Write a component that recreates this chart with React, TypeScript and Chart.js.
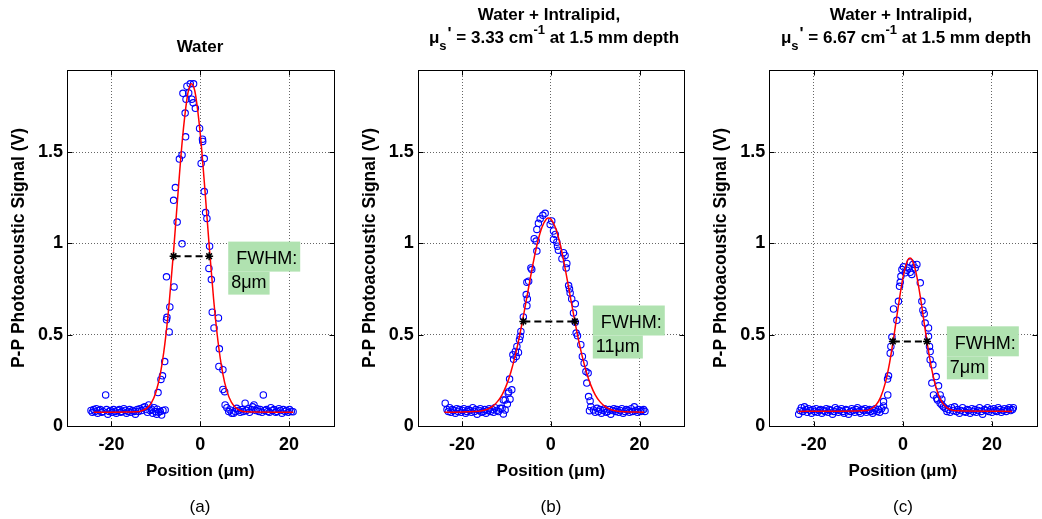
import React, { useEffect, useRef } from "react";
import { Chart, registerables } from "chart.js";
Chart.register(...registerables);

// ---------- axes ----------
const X_TICKS = [-20, 0, 20];
const Y_TICKS = [0, 0.5, 1, 1.5];
const X_MIN = -30;
const X_MAX = 30;
const Y_MIN = 0;
const Y_MAX = 1.95;

const X_TITLE = "Position (\u03bcm)";
const Y_TITLE = "P-P Photoacoustic Signal (V)";

// ---------- panel (a): Water ----------
const waterPoints: [number, number][] = [
  [-24.6, 0.085], [-24.3, 0.075], [-24.0, 0.09], [-23.7, 0.08], [-23.4, 0.095], [-23.1, 0.07], [-22.8, 0.085],
  [-22.5, 0.09], [-22.2, 0.075], [-21.9, 0.08], [-21.3, 0.17], [-21.1, 0.09], [-20.8, 0.065], [-20.5, 0.08],
  [-20.2, 0.085], [-19.9, 0.075], [-19.5, 0.09], [-19.2, 0.08], [-18.9, 0.07], [-18.6, 0.085], [-18.2, 0.09],
  [-17.9, 0.075], [-17.6, 0.08], [-17.2, 0.095], [-16.9, 0.085], [-16.6, 0.07], [-16.2, 0.08], [-15.9, 0.09],
  [-15.6, 0.075], [-15.2, 0.085], [-14.9, 0.08], [-14.6, 0.065], [-14.2, 0.09], [-13.9, 0.08], [-13.6, 0.095],
  [-13.2, 0.085], [-12.9, 0.1], [-12.5, 0.106], [-12.2, 0.09], [-11.9, 0.075], [-11.6, 0.115], [-11.3, 0.085],
  [-11.0, 0.092], [-10.7, 0.07], [-10.4, 0.1], [-10.1, 0.079], [-9.8, 0.065], [-9.7, 0.092], [-9.4, 0.075],
  [-9.0, 0.079], [-8.7, 0.06], [-8.4, 0.085], [-7.9, 0.088],
  [-9.5, 0.183], [-8.85, 0.255], [-8.5, 0.275], [-8.0, 0.353], [-7.6, 0.582], [-7.5, 0.595], [-7.6, 0.817],
  [-7.0, 0.515], [-6.85, 0.652], [-5.9, 0.762], [-6.0, 1.236], [-5.6, 1.306], [-5.2, 1.117], [-4.7, 1.462],
  [-4.1, 1.485], [-4.1, 0.998], [-3.9, 1.822], [-3.4, 1.714], [-3.3, 1.584], [-3.2, 1.79], [-3.0, 1.861],
  [-2.6, 1.824], [-2.25, 1.874], [-1.9, 1.79], [-1.6, 1.77], [-1.5, 1.874], [-1.1, 1.74], [-0.15, 1.63],
  [0.2, 1.438], [0.5, 1.571], [0.55, 1.559], [0.9, 1.465], [0.9, 1.284], [1.2, 1.169], [1.5, 1.137],
  [1.95, 0.863], [2.1, 0.985], [2.5, 0.802], [2.7, 0.623], [3.1, 0.537], [4.1, 0.592], [4.3, 0.423],
  [4.2, 0.326], [5.1, 0.308], [5.1, 0.2], [5.5, 0.188],
  [5.6, 0.115], [6.0, 0.1], [6.4, 0.079], [6.7, 0.088], [7.1, 0.07], [7.5, 0.07], [7.9, 0.079], [8.2, 0.097],
  [8.6, 0.085], [9.0, 0.075], [9.4, 0.09], [9.7, 0.08], [10.1, 0.125], [10.4, 0.085], [10.8, 0.095],
  [11.1, 0.075], [11.5, 0.09], [11.8, 0.105], [12.1, 0.115], [12.5, 0.085], [12.8, 0.095], [13.2, 0.08],
  [13.5, 0.09], [13.9, 0.075], [14.2, 0.17], [14.5, 0.085], [14.9, 0.09], [15.2, 0.08], [15.6, 0.075],
  [15.9, 0.1], [16.3, 0.085], [16.6, 0.09], [17.0, 0.075], [17.3, 0.08], [17.7, 0.095], [18.0, 0.085],
  [18.4, 0.07], [18.7, 0.09], [19.1, 0.08], [19.4, 0.085], [19.8, 0.075], [20.1, 0.09], [20.5, 0.08], [20.9, 0.078],
];
const waterFit: [number, number][] = [
  [-24, 0.075], [-14, 0.078], [-13, 0.085], [-12, 0.098], [-11, 0.127], [-10, 0.184], [-9, 0.284], [-8, 0.444],
  [-7, 0.671], [-6, 0.959], [-5, 1.278], [-4, 1.575], [-3, 1.791], [-2.5, 1.852], [-2, 1.875], [-1.5, 1.859],
  [-1, 1.806], [0, 1.601], [1, 1.31], [2, 0.991], [3, 0.697], [4, 0.463], [5, 0.297], [6, 0.191], [7, 0.131],
  [8, 0.1], [9, 0.085], [10, 0.078], [21, 0.075],
];
const waterFwhm: [number, number][] = [[-6.0, 0.93], [2.0, 0.93]];
const waterNote = [" FWHM:", "8\u03bcm"];

// ---------- panel (b): Water + Intralipid, 3.33 cm-1 ----------
const lipid1Points: [number, number][] = [
  [-23.8, 0.125], [-23.4, 0.09], [-23.1, 0.08], [-22.8, 0.1], [-22.5, 0.075], [-22.2, 0.09], [-21.9, 0.085],
  [-21.5, 0.07], [-21.2, 0.095], [-20.9, 0.08], [-20.6, 0.09], [-20.2, 0.075], [-19.9, 0.085], [-19.6, 0.095],
  [-19.2, 0.07], [-18.9, 0.08], [-18.6, 0.09], [-18.2, 0.085], [-17.9, 0.075], [-17.6, 0.1], [-17.2, 0.08],
  [-16.9, 0.09], [-16.6, 0.065], [-16.2, 0.085], [-15.9, 0.095], [-15.6, 0.075], [-15.2, 0.08], [-14.9, 0.09],
  [-14.6, 0.07], [-14.2, 0.085], [-13.9, 0.095], [-13.6, 0.08], [-13.2, 0.09], [-12.9, 0.075], [-12.6, 0.1],
  [-12.2, 0.085], [-11.8, 0.079], [-11.4, 0.097], [-11.0, 0.097], [-10.7, 0.066], [-10.3, 0.088],
  [-10.7, 0.143], [-10.3, 0.143], [-9.8, 0.121], [-9.6, 0.18], [-9.5, 0.188], [-9.3, 0.257], [-9.2, 0.147],
  [-8.8, 0.198], [-8.55, 0.39], [-8.4, 0.366], [-8.0, 0.408], [-7.8, 0.381], [-7.65, 0.436], [-7.3, 0.403],
  [-7.07, 0.473], [-6.9, 0.491], [-6.75, 0.518], [-6.2, 0.597], [-5.55, 0.72], [-5.4, 0.659], [-5.4, 0.787],
  [-5.3, 0.696], [-5.0, 0.793], [-4.5, 0.866], [-4.3, 0.857], [-3.75, 1.026], [-3.3, 1.013], [-3.15, 1.077],
  [-3.15, 0.958], [-2.8, 1.11], [-2.4, 1.135], [-1.8, 1.154], [-1.28, 1.165], [-0.15, 1.104], [0.2, 1.123],
  [0.6, 1.068], [0.6, 1.022], [1.0, 1.049], [1.35, 1.007], [1.5, 0.985], [1.7, 0.963], [2.5, 0.916],
  [2.85, 0.949], [3.2, 0.934], [3.45, 0.866], [3.6, 0.89], [4.0, 0.769], [4.2, 0.751], [4.35, 0.729],
  [4.7, 0.696], [5.1, 0.619], [5.5, 0.67], [5.5, 0.568], [5.7, 0.509], [6.0, 0.495], [6.75, 0.445],
  [7.1, 0.381], [7.5, 0.344], [7.9, 0.298], [8.1, 0.235], [8.4, 0.29], [8.5, 0.161], [8.7, 0.084],
  [8.85, 0.137], [9.0, 0.106], [9.6, 0.088], [10.4, 0.097],
  [10.0, 0.075], [10.7, 0.08], [11.1, 0.09], [11.4, 0.07], [11.8, 0.085], [12.1, 0.095], [12.5, 0.075],
  [12.8, 0.08], [13.2, 0.09], [13.5, 0.065], [13.9, 0.085], [14.2, 0.095], [14.6, 0.08], [14.9, 0.09],
  [15.3, 0.075], [15.6, 0.085], [16.0, 0.095], [16.3, 0.07], [16.7, 0.08], [17.0, 0.09], [17.4, 0.085],
  [17.7, 0.075], [18.1, 0.095], [18.4, 0.08], [18.8, 0.105], [19.1, 0.085], [19.5, 0.075], [19.8, 0.09],
  [20.2, 0.08], [20.5, 0.085], [20.9, 0.09], [21.2, 0.08],
];
const lipid1Fit: [number, number][] = [
  [-24, 0.075], [-16, 0.081], [-15, 0.086], [-14, 0.095], [-13, 0.11], [-12, 0.135], [-11, 0.171], [-10, 0.224],
  [-9, 0.296], [-8, 0.388], [-7, 0.499], [-6, 0.626], [-5, 0.76], [-4, 0.891], [-3, 1.005], [-2, 1.089],
  [-1, 1.134], [-0.5, 1.14], [0, 1.134], [1, 1.089], [2, 1.005], [3, 0.891], [4, 0.76], [5, 0.626], [6, 0.499],
  [7, 0.388], [8, 0.296], [9, 0.224], [10, 0.171], [11, 0.135], [12, 0.11], [13, 0.095], [14, 0.086],
  [15, 0.081], [21, 0.075],
];
const lipid1Fwhm: [number, number][] = [[-6.2, 0.573], [5.4, 0.573]];
const lipid1Note = [" FWHM:", "11\u03bcm"];

// ---------- panel (c): Water + Intralipid, 6.67 cm-1 ----------
const lipid2Points: [number, number][] = [
  [-23.4, 0.065], [-23.1, 0.085], [-22.8, 0.1], [-22.5, 0.08], [-22.1, 0.105], [-21.8, 0.09], [-21.5, 0.075],
  [-21.2, 0.095], [-20.8, 0.085], [-20.5, 0.07], [-20.2, 0.09], [-19.8, 0.08], [-19.5, 0.095], [-19.2, 0.075],
  [-18.8, 0.085], [-18.5, 0.09], [-18.2, 0.07], [-17.8, 0.085], [-17.5, 0.08], [-17.2, 0.095], [-16.8, 0.075],
  [-16.5, 0.09], [-16.2, 0.085], [-15.8, 0.065], [-15.5, 0.08], [-15.2, 0.1], [-14.8, 0.09], [-14.5, 0.075],
  [-14.2, 0.085], [-13.8, 0.095], [-13.5, 0.08], [-13.2, 0.07], [-12.8, 0.09], [-12.5, 0.085], [-12.2, 0.065],
  [-11.8, 0.08], [-11.5, 0.095], [-11.2, 0.085], [-10.8, 0.075], [-10.5, 0.09], [-10.2, 0.1], [-9.8, 0.08],
  [-9.5, 0.07], [-9.2, 0.09], [-8.8, 0.085], [-8.5, 0.095], [-8.2, 0.075], [-7.8, 0.085], [-7.5, 0.09],
  [-7.2, 0.08], [-6.8, 0.07], [-6.5, 0.085], [-6.2, 0.095], [-5.8, 0.08], [-5.5, 0.09], [-5.2, 0.075],
  [-4.8, 0.095], [-4.35, 0.11], [-4.35, 0.134], [-4.0, 0.085],
  [-3.4, 0.17], [-3.45, 0.257], [-3.23, 0.275], [-2.85, 0.399], [-2.7, 0.436], [-2.47, 0.487], [-2.1, 0.641],
  [-1.35, 0.579], [-1.0, 0.683], [-0.76, 0.765], [-0.6, 0.787], [-0.45, 0.82], [-0.22, 0.857], [0.13, 0.872],
  [0.52, 0.839], [0.9, 0.853], [1.26, 0.866], [1.64, 0.897], [1.64, 0.842], [2.0, 0.83], [2.24, 0.885],
  [2.76, 0.866], [3.14, 0.885], [3.9, 0.784], [4.26, 0.683], [4.49, 0.634], [4.78, 0.615], [5.0, 0.564],
  [5.75, 0.537], [5.75, 0.491], [5.97, 0.436], [6.12, 0.408], [6.12, 0.363], [6.5, 0.235], [6.73, 0.335],
  [6.87, 0.17], [7.47, 0.271], [7.6, 0.152], [7.77, 0.143], [8.0, 0.22], [8.37, 0.17], [8.37, 0.125],
  [8.75, 0.147], [8.75, 0.115], [9.1, 0.106], [9.5, 0.097],
  [9.9, 0.08], [10.2, 0.09], [10.6, 0.075], [10.9, 0.1], [11.3, 0.085], [11.6, 0.105], [12.0, 0.08],
  [12.3, 0.09], [12.7, 0.07], [13.0, 0.085], [13.4, 0.1], [13.7, 0.08], [14.1, 0.075], [14.4, 0.09],
  [14.8, 0.085], [15.1, 0.07], [15.5, 0.095], [15.8, 0.08], [16.2, 0.09], [16.5, 0.075], [16.9, 0.085],
  [17.2, 0.1], [17.6, 0.08], [17.9, 0.065], [18.3, 0.09], [18.6, 0.085], [19.0, 0.1], [19.3, 0.08],
  [19.7, 0.09], [20.0, 0.075], [20.4, 0.095], [20.7, 0.085], [21.1, 0.08], [21.4, 0.1], [21.8, 0.09],
  [22.1, 0.075], [22.5, 0.085], [22.8, 0.095], [23.2, 0.08], [23.5, 0.09], [23.9, 0.1], [24.2, 0.085],
  [24.6, 0.09], [24.8, 0.1],
];
const lipid2Fit: [number, number][] = [
  [-23.5, 0.08], [-8, 0.0855], [-7, 0.095], [-6, 0.116], [-5, 0.158], [-4, 0.232], [-3, 0.345], [-2, 0.495],
  [-1, 0.661], [0, 0.811], [1, 0.904], [1.6, 0.92], [2, 0.913], [3, 0.835], [4, 0.694], [5, 0.528],
  [6, 0.373], [7, 0.252], [8, 0.17], [9, 0.1225], [10, 0.098], [11, 0.087], [12, 0.083], [24.5, 0.08],
];
const lipid2Fwhm: [number, number][] = [[-2.25, 0.463], [5.4, 0.463]];
const lipid2Note = [" FWHM:", "7\u03bcm"];

// ---------- styling / layout ----------
const FONT = '"Liberation Sans", Arial, Helvetica, sans-serif';
const NOTE_BG = "rgb(176,226,176)";

type PanelCfg = {
  left: number;
  width: number;
  padL: number;
  padR: number;
  points: [number, number][];
  fit: [number, number][];
  fwhm: [number, number][];
  note: string[];
  noteAt: [number, number];
};

const panels: PanelCfg[] = [
  { left: 0, width: 350, padL: 5, padR: 16.5, points: waterPoints, fit: waterFit, fwhm: waterFwhm, note: waterNote, noteAt: [6.3, 1.01] },
  { left: 350, width: 350, padL: 5.7, padR: 16, points: lipid1Points, fit: lipid1Fit, fwhm: lipid1Fwhm, note: lipid1Note, noteAt: [9.45, 0.66] },
  { left: 700, width: 342, padL: 7.3, padR: 5.3, points: lipid2Points, fit: lipid2Fit, fwhm: lipid2Fwhm, note: lipid2Note, noteAt: [9.87, 0.546] },
];

const toXY = (arr: [number, number][]) => arr.map(([x, y]) => ({ x, y }));

function makeFramePlugin(cfg: PanelCfg) {
  return {
    id: "frame",
    afterDraw(chart: any) {
      const { ctx, chartArea: ca, scales } = chart;
      const xs = scales.x;
      const ys = scales.y;
      ctx.save();
      ctx.strokeStyle = "#000";
      ctx.lineWidth = 1;
      const l = Math.round(ca.left) + 0.5;
      const t = Math.round(ca.top) + 0.5;
      const r = Math.round(ca.right) + 0.5;
      const b = Math.round(ca.bottom) + 0.5;
      ctx.strokeRect(l, t, r - l, b - t);
      const TL = 5;
      ctx.beginPath();
      X_TICKS.forEach((v) => {
        const px = Math.round(xs.getPixelForValue(v)) + 0.5;
        ctx.moveTo(px, b);
        ctx.lineTo(px, b - TL);
        ctx.moveTo(px, t);
        ctx.lineTo(px, t + TL);
      });
      Y_TICKS.forEach((v) => {
        const py = Math.round(ys.getPixelForValue(v)) + 0.5;
        ctx.moveTo(l, py);
        ctx.lineTo(l + TL, py);
        ctx.moveTo(r, py);
        ctx.lineTo(r - TL, py);
      });
      ctx.stroke();

      // FWHM annotation with background
      ctx.font = `18px ${FONT}`;
      ctx.textBaseline = "middle";
      ctx.textAlign = "left";
      const ax = xs.getPixelForValue(cfg.noteAt[0]);
      let ay = ys.getPixelForValue(cfg.noteAt[1]);
      const heights = [30, 23];
      const dy = [2.5, 0];
      cfg.note.forEach((txt, i) => {
        const w = ctx.measureText(txt).width + 6;
        ctx.fillStyle = NOTE_BG;
        ctx.fillRect(ax, ay, w, heights[i]);
        ctx.fillStyle = "#000";
        ctx.fillText(txt, ax + 3, ay + heights[i] / 2 + dy[i]);
        ay += heights[i];
      });
      ctx.restore();
    },
  };
}

function Panel({ cfg }: { cfg: PanelCfg }) {
  const ref = useRef<HTMLCanvasElement>(null);
  useEffect(() => {
    const tickFont = { family: FONT, size: 18, weight: "bold" as const };
    const xTitleFont = { family: FONT, size: 17, weight: "bold" as const };
    const yTitleFont = { family: FONT, size: 17.5, weight: "bold" as const };
    const chart = new Chart(ref.current as HTMLCanvasElement, {
      type: "scatter",
      data: {
        datasets: [
          {
            label: "FWHM",
            data: toXY(cfg.fwhm),
            showLine: true,
            borderColor: "#000",
            borderWidth: 2,
            borderDash: [7, 4],
            pointStyle: "star",
            pointRadius: 4,
            pointBorderColor: "#000",
            pointBorderWidth: 1.5,
            order: 0,
          },
          {
            label: "fit",
            data: toXY(cfg.fit),
            showLine: true,
            borderColor: "#ff0000",
            borderWidth: 1.5,
            pointRadius: 0,
            cubicInterpolationMode: "monotone",
            order: 1,
          },
          {
            label: "data",
            data: toXY(cfg.points),
            showLine: false,
            pointStyle: "circle",
            pointRadius: 3.2,
            pointBorderWidth: 1.1,
            pointBorderColor: "#0000ff",
            pointBackgroundColor: "rgba(0,0,0,0)",
            order: 2,
          },
        ] as any,
      },
      options: {
        animation: false,
        responsive: false,
        maintainAspectRatio: false,
        events: [],
        layout: { padding: { left: cfg.padL, right: cfg.padR, top: 70, bottom: 37 } },
        plugins: { legend: { display: false }, tooltip: { enabled: false }, title: { display: false } },
        scales: {
          x: {
            type: "linear",
            position: "bottom",
            min: X_MIN,
            max: X_MAX,
            afterBuildTicks: (s: any) => {
              s.ticks = X_TICKS.map((v) => ({ value: v }));
            },
            afterFit: (s: any) => {
              s.height = 56;
            },
            grid: { color: "rgba(0,0,0,0.6)", lineWidth: 1, drawTicks: false },
            border: { display: false, dash: [1, 2] },
            ticks: {
              color: "#000",
              font: tickFont,
              padding: 8,
              maxRotation: 0,
              autoSkip: false,
              callback: (v: any) => String(v),
            },
            title: { display: true, text: X_TITLE, color: "#000", font: xTitleFont, padding: { top: 0, bottom: 0 } },
          },
          y: {
            type: "linear",
            min: Y_MIN,
            max: Y_MAX,
            afterBuildTicks: (s: any) => {
              s.ticks = Y_TICKS.map((v) => ({ value: v }));
            },
            afterFit: (s: any) => {
              s.width = 62;
            },
            grid: { color: "rgba(0,0,0,0.6)", lineWidth: 1, drawTicks: false },
            border: { display: false, dash: [1, 2] },
            ticks: {
              color: "#000",
              font: tickFont,
              padding: 4,
              autoSkip: false,
              callback: (v: any) => String(v),
            },
            title: { display: true, text: Y_TITLE, color: "#000", font: yTitleFont, padding: { top: 3.5, bottom: 0 } },
          },
        },
      } as any,
      plugins: [makeFramePlugin(cfg)],
    });
    return () => chart.destroy();
  }, [cfg]);
  return (
    <canvas
      ref={ref}
      width={cfg.width}
      height={519}
      style={{ position: "absolute", left: cfg.left, top: 0, width: cfg.width, height: 519, display: "block" }}
    />
  );
}

const titleStyle = (cx: number, cy: number): React.CSSProperties => ({
  position: "absolute",
  left: cx - 200,
  top: cy - 10,
  width: 400,
  textAlign: "center",
  font: `bold 17px ${FONT}`,
  lineHeight: "20px",
  whiteSpace: "nowrap",
  color: "#000",
});

const sub: React.CSSProperties = { fontSize: 13, position: "relative", top: 7 };
const prime: React.CSSProperties = { position: "relative", top: -4, marginLeft: 1 };
const sup: React.CSSProperties = { fontSize: 13, position: "relative", top: -9 };

function ScatterLine({ value }: { value: string }) {
  return (
    <>
      {"\u03bc"}
      <span style={sub}>s</span>
      <span style={prime}>'</span>
      {` = ${value} cm`}
      <span style={sup}>-1</span>
      {" at 1.5 mm depth"}
    </>
  );
}

const captionStyle = (cx: number): React.CSSProperties => ({
  position: "absolute",
  left: cx - 50,
  top: 497,
  width: 100,
  textAlign: "center",
  font: `17px ${FONT}`,
  lineHeight: "20px",
  color: "#000",
});

export default function App() {
  return (
    <div style={{ position: "absolute", left: 0, top: 0, width: 1042, height: 519, background: "#fff", overflow: "hidden" }}>
      {panels.map((p, i) => (
        <Panel key={i} cfg={p} />
      ))}
      <div style={titleStyle(200, 47)}>Water</div>
      <div style={titleStyle(549, 15)}>Water + Intralipid,</div>
      <div style={titleStyle(554, 38)}>
        <ScatterLine value="3.33" />
      </div>
      <div style={titleStyle(901, 15)}>Water + Intralipid,</div>
      <div style={titleStyle(906, 38)}>
        <ScatterLine value="6.67" />
      </div>
      <div style={captionStyle(200)}>(a)</div>
      <div style={captionStyle(551)}>(b)</div>
      <div style={captionStyle(903)}>(c)</div>
    </div>
  );
}
